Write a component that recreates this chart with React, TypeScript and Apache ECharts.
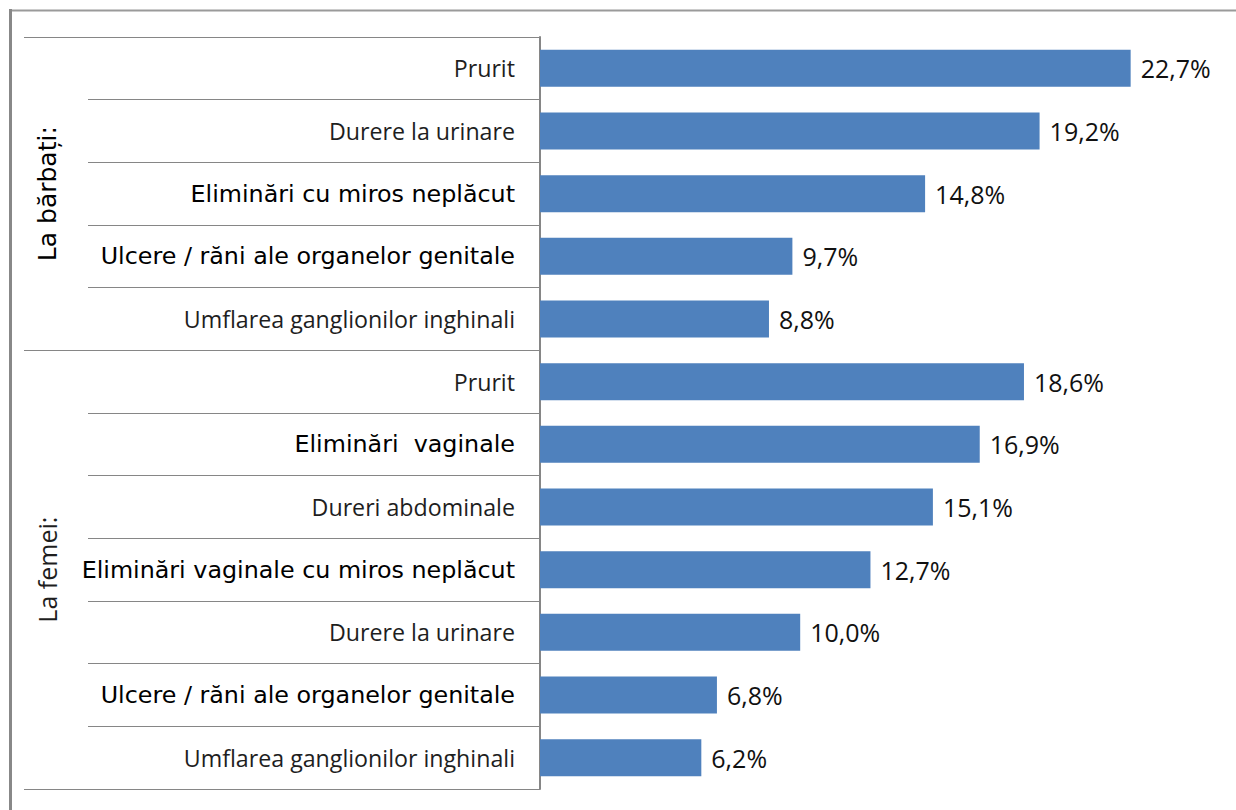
import React, { useEffect, useRef } from "react";
import * as echarts from "echarts";

const groupTitles = ["La bărbați:", "La femei:"];

const menLabels = [
  "Prurit",
  "Durere la urinare",
  "Eliminări cu miros neplăcut",
  "Ulcere / răni ale organelor genitale",
  "Umflarea ganglionilor inghinali",
];
const menValues = [22.7, 19.2, 14.8, 9.7, 8.8];
const menEmphasis = [false, false, true, true, false];

const womenLabels = [
  "Prurit",
  "Eliminări  vaginale",
  "Dureri abdominale",
  "Eliminări vaginale cu miros neplăcut",
  "Durere la urinare",
  "Ulcere / răni ale organelor genitale",
  "Umflarea ganglionilor inghinali",
];
const womenValues = [18.6, 16.9, 15.1, 12.7, 10.0, 6.8, 6.2];
const womenEmphasis = [false, true, false, true, false, true, false];

const categories = [...menLabels, ...womenLabels];
const values = [...menValues, ...womenValues];
const emphasis = [...menEmphasis, ...womenEmphasis];
const groupStarts = [0, menLabels.length];

const LIGHT_FONT = "'Open Sans', 'Noto Sans', sans-serif";
const STRONG_FONT = "'DejaVu Sans', 'Liberation Sans', sans-serif";
const LINE = "#868686";

export default function App() {
  const ref = useRef<HTMLDivElement>(null);

  useEffect(() => {
    if (!ref.current) return;
    const chart = echarts.init(ref.current, null, { renderer: "svg" });
    const option: any = {
      animation: false,
      backgroundColor: "#ffffff",
      grid: { left: 540, right: 45.5, top: 37, bottom: 21, containLabel: false },
      xAxis: { type: "value", min: 0, max: 25, show: false },
      yAxis: [
        {
          type: "category",
          inverse: true,
          data: categories,
          axisLine: { show: true, lineStyle: { color: LINE, width: 2 } },
          axisTick: {
            show: true,
            interval: 0,
            length: 452,
            lineStyle: { color: LINE, width: 1.2 },
          },
          axisLabel: {
            margin: 25,
            interval: 0,
            formatter: (v: string, i: number) =>
              emphasis[i] ? `{b|${v}}` : `{a|${v}}`,
            rich: {
              a: { fontFamily: LIGHT_FONT, fontSize: 23.2, color: "#1e1e1e" },
              b: { fontFamily: STRONG_FONT, fontSize: 23.8, color: "#000000" },
            },
          },
          splitLine: { show: false },
        },
        {
          type: "category",
          inverse: true,
          data: categories,
          position: "left",
          axisLine: { show: false },
          axisLabel: { show: false },
          axisTick: {
            show: true,
            interval: (i: number) => groupStarts.indexOf(i) >= 0,
            length: 516,
            lineStyle: { color: LINE, width: 1.2 },
          },
        },
      ],
      series: [
        {
          type: "bar",
          data: values,
          yAxisIndex: 0,
          barCategoryGap: "41%",
          itemStyle: { color: "#4F81BD" },
          label: {
            show: true,
            position: "right",
            distance: 10,
            fontFamily: LIGHT_FONT,
            fontSize: 25,
            color: "#111111",
            formatter: (p: any) => p.value.toFixed(1).replace(".", ",") + "%",
          },
        },
      ],
    };
    chart.setOption(option);

    const px = (i: number) => chart.convertToPixel({ yAxisIndex: 0 }, i) as number;
    const menMid = (px(0) + px(menLabels.length - 1)) / 2;
    const womenMid =
      (px(menLabels.length) + px(categories.length - 1)) / 2;

    chart.setOption({
      graphic: [
        {
          type: "line",
          shape: { x1: 9, y1: 10.5, x2: 1236, y2: 10.5 },
          style: { stroke: "#9a9a9a", lineWidth: 2 },
          silent: true,
        },
        {
          type: "line",
          shape: { x1: 10.5, y1: 9, x2: 10.5, y2: 810 },
          style: { stroke: "#888888", lineWidth: 3 },
          silent: true,
        },
        {
          type: "text",
          x: 47,
          y: menMid,
          rotation: Math.PI / 2,
          style: {
            text: groupTitles[0],
            fontFamily: STRONG_FONT,
            fontSize: 25,
            fill: "#000000",
            align: "center",
            verticalAlign: "middle",
          },
        },
        {
          type: "text",
          x: 47,
          y: womenMid,
          rotation: Math.PI / 2,
          style: {
            text: groupTitles[1],
            fontFamily: LIGHT_FONT,
            fontSize: 25,
            fill: "#1e1e1e",
            align: "center",
            verticalAlign: "middle",
          },
        },
      ],
    });

    return () => chart.dispose();
  }, []);

  return (
    <div
      ref={ref}
      style={{ position: "absolute", left: 0, top: 0, width: 1236, height: 810 }}
    />
  );
}
